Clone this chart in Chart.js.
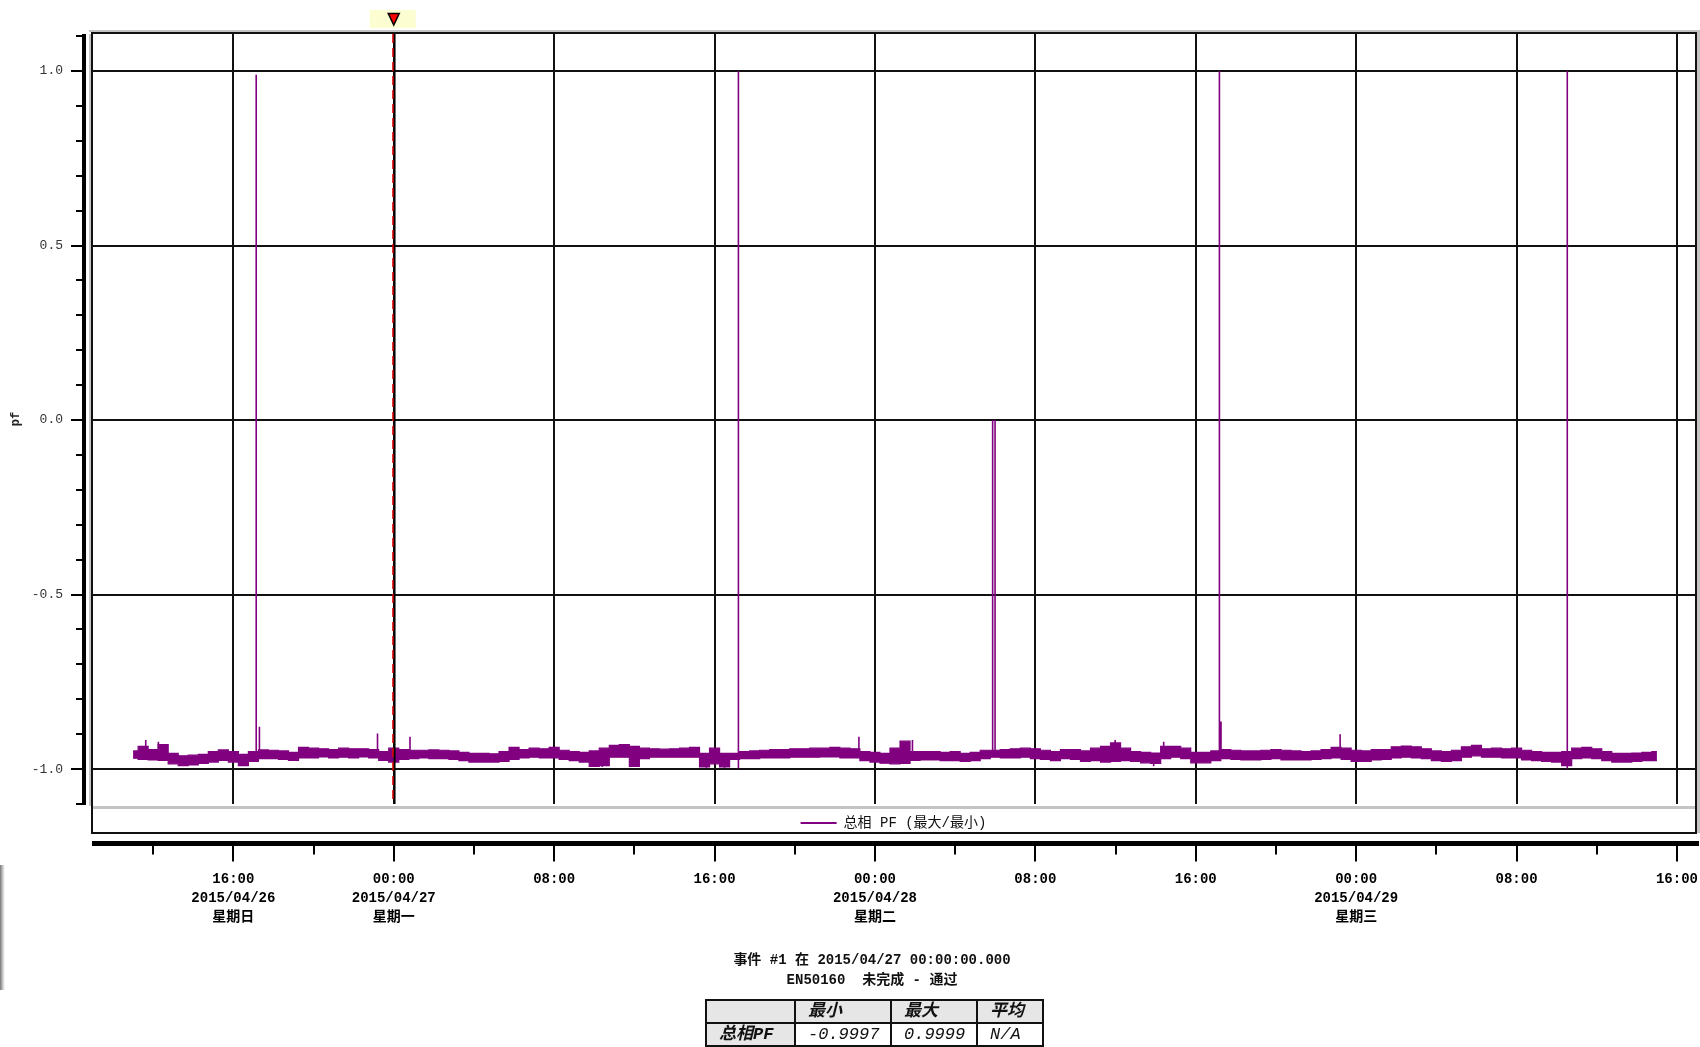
<!DOCTYPE html>
<html lang="zh-CN">
<head>
<meta charset="utf-8">
<title>总相 PF (最大/最小)</title>
<script src="https://cdn.jsdelivr.net/npm/chart.js@4.4.1/dist/chart.umd.min.js"></script>
<style>
    html, body { margin: 0; padding: 0; background: #fff; overflow: hidden; }
    #page { position: relative; width: 1700px; height: 1047px; }
    #pfChart { position: absolute; left: 0; top: 0; }
    .mono { font-family: "Liberation Mono", "Noto Sans CJK SC", monospace; color: #111; }
    #eventText { position: absolute; left: 672px; top: 950px; width: 400px; text-align: center; font-size: 14px; font-weight: bold; line-height: 20px; white-space: pre; }
    #summary { position: absolute; left: 705px; top: 999px; border-collapse: collapse; table-layout: fixed; width: 337px; font-size: 17px; font-style: italic; }
    #summary td { border: 2px solid #111; padding: 0 0 0 12px; height: 21px; line-height: 21px; white-space: nowrap; overflow: hidden; }
    #summary .head { background: #e6e6e6; font-weight: bold; }
    #edgeShadow { position: absolute; left: 0; top: 865px; width: 5px; height: 125px; background: linear-gradient(to right, #777, #ddd 70%, #fff); }
</style>
</head>
<body>
<div id="page">
    <canvas id="pfChart" width="1700" height="1047"></canvas>
    <div id="edgeShadow"></div>
    <div id="eventText" class="mono"></div>
    <table id="summary" class="mono">
        <colgroup><col style="width:89px"><col style="width:96px"><col style="width:86px"><col style="width:66px"></colgroup>
        <tbody id="summaryBody"></tbody>
    </table>
</div>
<script>
// Hours are counted from 2015/04/27 00:00 (event #1)
const xMinHour = -15.1
const xMaxHour = 64.95
const eventHour = 0

const xMajorTicks = [-8, 0, 8, 16, 24, 32, 40, 48, 56, 64]
const xMinorTicks = [-12, -4, 4, 12, 20, 28, 36, 44, 52, 60]
const xTickLabels = [
    ['16:00', '2015/04/26', '星期日'],
    ['00:00', '2015/04/27', '星期一'],
    ['08:00'],
    ['16:00'],
    ['00:00', '2015/04/28', '星期二'],
    ['08:00'],
    ['16:00'],
    ['00:00', '2015/04/29', '星期三'],
    ['08:00'],
    ['16:00']
]

const yMin = -1.1
const yMax = 1.106
const yMajorTicks = [-1, -0.5, 0, 0.5, 1]
const yMinorTicks = [-1.1, -0.9, -0.8, -0.7, -0.6, -0.4, -0.3, -0.2, -0.1, 0.1, 0.2, 0.3, 0.4, 0.6, 0.7, 0.8, 0.9, 1.1]

const seriesName = '总相 PF (最大/最小)'

// max / min envelope of the PF trace, one value every half hour from -13 h
const bandStartHour = -13
const bandStepHour = 0.5
const bandHigh = [
    -0.948, -0.935, -0.944, -0.930, -0.955, -0.962, -0.960, -0.958, -0.950, -0.945,
    -0.950, -0.958, -0.950, -0.945, -0.946, -0.948, -0.952, -0.938, -0.940, -0.942,
    -0.944, -0.940, -0.942, -0.942, -0.944, -0.950, -0.940, -0.944, -0.946, -0.946,
    -0.945, -0.946, -0.948, -0.952, -0.955, -0.955, -0.956, -0.950, -0.938,
    -0.944, -0.940, -0.942, -0.938, -0.946, -0.950, -0.952, -0.948, -0.940, -0.932,
    -0.930, -0.935, -0.940, -0.942, -0.943, -0.942, -0.940, -0.938, -0.955, -0.940,
    -0.955, -0.955, -0.950, -0.948, -0.946, -0.944, -0.944, -0.942, -0.942, -0.940,
    -0.940, -0.938, -0.940, -0.942, -0.950, -0.952, -0.955,
    -0.940, -0.920, -0.950, -0.950, -0.950, -0.952, -0.950, -0.955, -0.952, -0.946,
    -0.946, -0.944, -0.942, -0.940, -0.942, -0.946, -0.950, -0.944, -0.944, -0.948,
    -0.940, -0.935, -0.925, -0.940, -0.950, -0.952, -0.954, -0.935, -0.935, -0.940,
    -0.952, -0.952, -0.948, -0.944, -0.946, -0.948, -0.948, -0.946, -0.944,
    -0.946, -0.948, -0.950, -0.948, -0.944, -0.938, -0.940, -0.946, -0.948, -0.944,
    -0.944, -0.936, -0.934, -0.936, -0.942, -0.948, -0.950, -0.946, -0.936, -0.932,
    -0.942, -0.940, -0.942, -0.940, -0.946, -0.950, -0.952, -0.952, -0.950, -0.940,
    -0.938, -0.942, -0.950, -0.955, -0.955, -0.954, -0.952, -0.950
]
const bandLow = [
    -0.969, -0.972, -0.974, -0.975, -0.985, -0.990, -0.988, -0.984, -0.980, -0.975,
    -0.980, -0.990, -0.978, -0.970, -0.970, -0.972, -0.975, -0.968, -0.968, -0.965,
    -0.968, -0.966, -0.968, -0.965, -0.968, -0.975, -0.980, -0.972, -0.970, -0.968,
    -0.970, -0.970, -0.972, -0.976, -0.980, -0.980, -0.980, -0.978, -0.972,
    -0.968, -0.966, -0.968, -0.968, -0.972, -0.976, -0.980, -0.992, -0.990, -0.966,
    -0.966, -0.992, -0.970, -0.966, -0.966, -0.966, -0.966, -0.966, -0.994, -0.985,
    -0.994, -0.972, -0.970, -0.970, -0.968, -0.968, -0.968, -0.966, -0.966, -0.966,
    -0.965, -0.965, -0.968, -0.968, -0.976, -0.980, -0.983,
    -0.985, -0.984, -0.975, -0.974, -0.974, -0.976, -0.976, -0.978, -0.976, -0.970,
    -0.966, -0.968, -0.968, -0.966, -0.970, -0.972, -0.976, -0.970, -0.972, -0.978,
    -0.976, -0.980, -0.978, -0.976, -0.978, -0.982, -0.984, -0.970, -0.966, -0.970,
    -0.982, -0.982, -0.976, -0.970, -0.972, -0.974, -0.974, -0.972, -0.970,
    -0.974, -0.974, -0.974, -0.972, -0.970, -0.968, -0.972, -0.978, -0.978, -0.974,
    -0.972, -0.968, -0.966, -0.968, -0.970, -0.976, -0.978, -0.976, -0.966, -0.962,
    -0.966, -0.966, -0.968, -0.968, -0.974, -0.976, -0.978, -0.980, -0.990, -0.970,
    -0.968, -0.970, -0.976, -0.980, -0.980, -0.978, -0.976, -0.976
]

// single-sample excursions (vertical strokes)
const spikeHours = [-12.37, -11.74, -6.86, -6.7, -0.81, 0.81, 10.4, 12.0, 15.6, 16.5, 17.19, 23.2, 25.87, 29.87, 29.99, 35.98, 37.9, 38.4, 41.18, 41.26, 47.2, 58.53]
const spikeLow = [-0.96, -0.96, -0.955, -0.955, -0.96, -0.96, -0.994, -0.994, -0.996, -0.996, -0.998, -0.96, -0.96, -0.955, -0.955, -0.96, -0.992, -0.96, -0.96, -0.96, -0.96, -0.998]
const spikeHigh = [-0.917, -0.922, 0.989, -0.879, -0.898, -0.907, -0.96, -0.96, -0.96, -0.96, 1.0, -0.907, -0.917, 0.0, 0.0, -0.917, -0.96, -0.922, 1.0, -0.864, -0.90, 1.0]

const eventLines = ['事件 #1 在 2015/04/27 00:00:00.000', 'EN50160  未完成 - 通过']
const summaryHeaders = ['', '最小', '最大', '平均']
const summaryRow = ['总相PF', '-0.9997', '0.9999', 'N/A']

const PURPLE = '#800080'
const INK = '#111111'
const MONO = '"Liberation Mono", "Noto Sans CJK SC", monospace'

const bandHighPoints = bandHigh.map((v, i) => ({ x: bandStartHour + i * bandStepHour, y: v }))
const bandLowPoints = bandLow.map((v, i) => ({ x: bandStartHour + i * bandStepHour, y: v }))

const spikePoints = []
spikeHours.forEach((h, i) => {
    spikePoints.push({ x: h, y: spikeLow[i] }, { x: h, y: spikeHigh[i] }, { x: h, y: null })
})

// frame, axis bars, tick marks and the event cursor
const decorPlugin = {
    id: 'decor',
    afterDraw(chart) {
        const ctx = chart.ctx
        const area = chart.chartArea
        const xScale = chart.scales.x
        const yScale = chart.scales.y
        const frameBottom = area.bottom + 29
        const axisY = chart.legend.bottom + 3.5

        ctx.save()

        // grey shadow and legend separator
        ctx.fillStyle = '#c4c4c4'
        ctx.fillRect(area.left - 2, area.top - 4, area.right - area.left + 6, 2)
        ctx.fillRect(area.right + 1, area.top - 4, 3, frameBottom - area.top + 4)
        ctx.fillRect(area.left - 2, area.top, 2, area.bottom - area.top + 2)
        ctx.fillRect(area.left, area.bottom + 2, area.right - area.left, 3)

        // frame
        ctx.strokeStyle = INK
        ctx.lineWidth = 2
        ctx.strokeRect(area.left + 1, area.top - 1, area.right - area.left - 1, frameBottom - area.top + 1)

        // y axis bar and ticks
        ctx.fillStyle = '#000'
        ctx.fillRect(area.left - 9, area.top, 4, area.bottom - area.top + 1)
        ctx.lineWidth = 2
        ctx.strokeStyle = '#000'
        ctx.beginPath()
        yMajorTicks.forEach(v => {
            const py = Math.round(yScale.getPixelForValue(v))
            ctx.moveTo(area.left - 20, py)
            ctx.lineTo(area.left - 8, py)
        })
        yMinorTicks.forEach(v => {
            const py = Math.round(yScale.getPixelForValue(v))
            ctx.moveTo(area.left - 15, py)
            ctx.lineTo(area.left - 8, py)
        })
        ctx.stroke()

        // x axis bar and ticks
        ctx.fillRect(area.left + 1, axisY - 2.5, area.right - area.left + 2, 5)
        ctx.beginPath()
        xMajorTicks.forEach(v => {
            const px = Math.round(xScale.getPixelForValue(v))
            ctx.moveTo(px, axisY)
            ctx.lineTo(px, axisY + 18)
        })
        xMinorTicks.forEach(v => {
            const px = Math.round(xScale.getPixelForValue(v))
            ctx.moveTo(px, axisY)
            ctx.lineTo(px, axisY + 11)
        })
        ctx.stroke()

        // event cursor
        const ex = xScale.getPixelForValue(eventHour)
        ctx.strokeStyle = '#000'
        ctx.lineWidth = 2
        ctx.beginPath()
        ctx.moveTo(ex + 0.8, area.top)
        ctx.lineTo(ex + 0.8, area.bottom)
        ctx.stroke()
        ctx.strokeStyle = '#e00000'
        ctx.lineWidth = 1.5
        ctx.setLineDash([9, 5])
        ctx.beginPath()
        ctx.moveTo(ex - 0.8, area.top)
        ctx.lineTo(ex - 0.8, area.bottom)
        ctx.stroke()
        ctx.setLineDash([])

        // event marker above the frame
        ctx.fillStyle = '#fdfdd2'
        ctx.fillRect(ex - 24, 10, 46, 18)
        ctx.fillStyle = '#ff0000'
        ctx.strokeStyle = '#000'
        ctx.lineWidth = 1.5
        ctx.beginPath()
        ctx.moveTo(ex - 5.5, 13.5)
        ctx.lineTo(ex + 5.5, 13.5)
        ctx.lineTo(ex, 25)
        ctx.closePath()
        ctx.fill()
        ctx.stroke()

        ctx.restore()
    }
}

const chartCtx = document.getElementById('pfChart').getContext('2d')
const pfChart = new Chart(chartCtx, {
    type: 'line',
    data: {
        datasets: [{
            label: seriesName,
            data: bandHighPoints,
            borderColor: PURPLE,
            backgroundColor: PURPLE,
            borderWidth: 1.2,
            stepped: 'middle',
            pointRadius: 0,
            fill: '+1'
        }, {
            label: seriesName + ' min',
            data: bandLowPoints,
            borderColor: PURPLE,
            backgroundColor: PURPLE,
            borderWidth: 1.2,
            stepped: 'middle',
            pointRadius: 0,
            fill: false
        }, {
            label: seriesName + ' spikes',
            data: spikePoints,
            borderColor: PURPLE,
            borderWidth: 1.6,
            pointRadius: 0,
            spanGaps: false,
            fill: false
        }]
    },
    options: {
        responsive: false,
        animation: false,
        events: [],
        layout: {
            padding: { top: 34, right: 4, bottom: 107, left: 0 }
        },
        scales: {
            x: {
                type: 'linear',
                min: xMinHour,
                max: xMaxHour,
                border: { display: false },
                grid: { color: INK, lineWidth: 2, drawTicks: false },
                afterBuildTicks: axis => { axis.ticks = xMajorTicks.map(v => ({ value: v })) },
                afterFit: axis => {
                    axis.height = 100
                    axis.paddingLeft = 0
                    axis.paddingRight = 0
                },
                ticks: {
                    autoSkip: false,
                    maxRotation: 0,
                    minRotation: 0,
                    padding: 29.5,
                    color: '#000',
                    font: { family: MONO, size: 14, weight: 'bold', lineHeight: 1.36 },
                    callback: (value, index) => xTickLabels[index]
                }
            },
            y: {
                min: yMin,
                max: yMax,
                border: { display: false },
                grid: { color: INK, lineWidth: 2, drawTicks: false },
                afterBuildTicks: axis => { axis.ticks = yMajorTicks.map(v => ({ value: v })) },
                afterFit: axis => {
                    axis.width = 91
                    axis.paddingTop = 0
                    axis.paddingBottom = 0
                },
                ticks: {
                    padding: 28,
                    color: '#333',
                    font: { family: MONO, size: 13 },
                    callback: value => value.toFixed(1)
                },
                title: {
                    display: true,
                    text: 'pf',
                    color: '#222',
                    padding: { top: 9, bottom: 0 },
                    font: { family: MONO, size: 12, weight: 'bold' }
                }
            }
        },
        plugins: {
            tooltip: { enabled: false },
            legend: {
                position: 'bottom',
                weight: -1,
                fullSize: false,
                align: 'center',
                labels: {
                    boxWidth: 36,
                    boxHeight: 2,
                    padding: 12,
                    color: INK,
                    font: { family: MONO, size: 14 },
                    generateLabels: () => [{
                        text: seriesName,
                        fillStyle: PURPLE,
                        strokeStyle: PURPLE,
                        lineWidth: 0,
                        hidden: false,
                        datasetIndex: 0,
                        fontColor: INK
                    }]
                }
            }
        }
    },
    plugins: [decorPlugin]
})

// event caption and summary table under the chart
document.getElementById('eventText').textContent = eventLines.join('\n')

const summaryBody = document.getElementById('summaryBody')
const headRow = document.createElement('tr')
summaryHeaders.forEach(text => {
    const cell = document.createElement('td')
    cell.className = 'head'
    cell.textContent = text
    headRow.appendChild(cell)
})
summaryBody.appendChild(headRow)

const valueRow = document.createElement('tr')
summaryRow.forEach((text, i) => {
    const cell = document.createElement('td')
    if (i === 0) cell.className = 'head'
    cell.textContent = text
    valueRow.appendChild(cell)
})
summaryBody.appendChild(valueRow)
</script>
</body>
</html>
